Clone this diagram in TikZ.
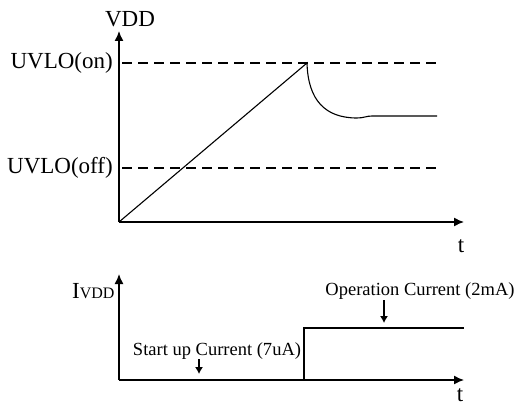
\documentclass[tikz,border=0pt]{standalone}
\usepackage{fontspec}
\setmainfont{Liberation Serif}
\usetikzlibrary{arrows.meta}
\begin{document}
\begin{tikzpicture}[x=1pt,y=-1pt,
  axis/.style={line width=1.4pt,-{Latex[length=10pt,width=9pt]}},
  trace/.style={line width=1.1pt},
  thresh/.style={line width=1.1pt,dash pattern=on 10pt off 6pt},
  big/.style={inner sep=0pt,font=\fontsize{23}{25}\selectfont},
  small/.style={inner sep=0pt,font=\fontsize{18.5}{20}\selectfont},
  pointer/.style={line width=1.1pt,-{Latex[length=7pt,width=8pt]}}]
\useasboundingbox (0,0) rectangle (518,406);
% top plot
\coordinate (o1) at (119,222);
\coordinate (y1) at (119,31);
\coordinate (x1) at (464,222);
\draw[axis] (o1) -- (y1);
\draw[axis] (o1) -- (x1);
\node[big,anchor=base] (vdd) at (130,27) {VDD};
\node[big,anchor=base] (t1) at (461,252) {t};
\node[big,anchor=east] (on) at (113,63) {UVLO(on)};
\node[big,anchor=east] (off) at (113,168) {UVLO(off)};
\coordinate (ons) at (122,63); \coordinate (one) at (437,63);
\coordinate (offs) at (122,168); \coordinate (offe) at (437,168);
\draw[thresh] (ons) -- (one);
\draw[thresh] (offs) -- (offe);
\coordinate (peak) at (307,63);
\coordinate (dip) at (357,118);
\coordinate (lvl) at (372,116);
\coordinate (lend) at (437,116);
\draw[trace] (o1) -- (peak) .. controls (308,100) and (325,118) .. (dip)
  .. controls (364,118) and (366,116) .. (lvl) -- (lend);
% bottom plot
\coordinate (o2) at (119,380);
\coordinate (y2) at (119,274);
\coordinate (x2) at (464,380);
\draw[axis] (o2) -- (y2);
\draw[axis] (o2) -- (x2);
\node[big,anchor=base west] (ivdd) at (72,298) {I\fontsize{16}{18}\selectfont VDD};
\node[big,anchor=base] (t2) at (460,401) {t};
\coordinate (s1) at (304,380);
\coordinate (s2) at (304,328);
\coordinate (s3) at (464,328);
\draw[trace] (o2) -- (s1) -- (s2) -- (s3);
\node[small,anchor=base] (optxt) at (420,295) {Operation Current (2mA)};
\coordinate (opa) at (384,300); \coordinate (opb) at (384,323);
\draw[pointer] (opa) -- (opb);
\node[small,anchor=base] (sttxt) at (217,355) {Start up Current (7uA)};
\coordinate (sta) at (199,359); \coordinate (stb) at (199,374);
\draw[pointer] (sta) -- (stb);
\end{tikzpicture}
\end{document}
